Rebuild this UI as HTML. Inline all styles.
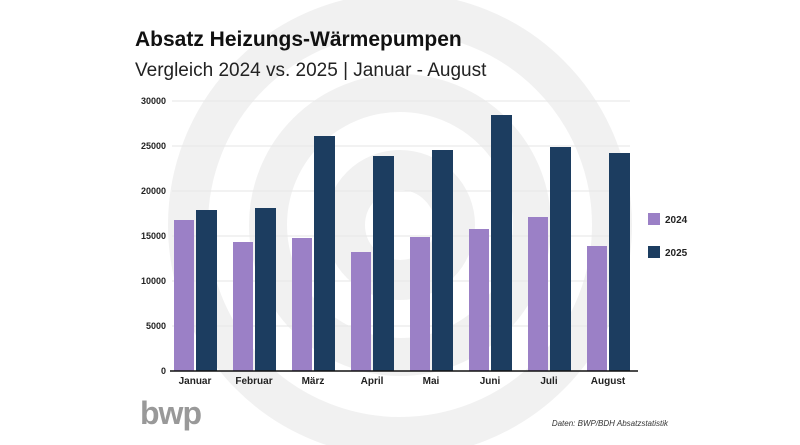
<!DOCTYPE html>
<html><head><meta charset="utf-8"><style>
body{margin:0;background:#fff;}
svg{display:block;font-family:"Liberation Sans",sans-serif;}
</style></head><body>
<svg width="800" height="445" viewBox="0 0 800 445">
<g fill="none" stroke="#f1f1f1">
<circle cx="400" cy="225" r="212" stroke-width="40"/>
<circle cx="400" cy="225" r="132" stroke-width="38"/>
<circle cx="400" cy="225" r="55" stroke-width="40"/>
</g>
<text x="135" y="46" font-size="21" font-weight="bold" fill="#111">Absatz Heizungs-Wärmepumpen</text>
<text x="135" y="76" font-size="19" fill="#222">Vergleich 2024 vs. 2025 | Januar - August</text>
<g stroke="#e6e6e6" stroke-width="1">
<line x1="172" x2="630" y1="101" y2="101"/><line x1="172" x2="630" y1="146" y2="146"/>
<line x1="172" x2="630" y1="191" y2="191"/><line x1="172" x2="630" y1="236" y2="236"/>
<line x1="172" x2="630" y1="281" y2="281"/><line x1="172" x2="630" y1="326" y2="326"/>
</g>
<g font-size="9" font-weight="bold" fill="#222" text-anchor="end">
<text x="166" y="104">30000</text><text x="166" y="149">25000</text><text x="166" y="194">20000</text>
<text x="166" y="239">15000</text><text x="166" y="284">10000</text><text x="166" y="329">5000</text><text x="166" y="374">0</text>
</g>
<g fill="#9b80c6">
<rect x="174" y="220" width="20" height="151"/><rect x="233" y="242" width="20" height="129"/>
<rect x="292" y="238" width="20" height="133"/><rect x="351" y="252" width="20" height="119"/>
<rect x="410" y="237" width="20" height="134"/><rect x="469" y="229" width="20" height="142"/>
<rect x="528" y="217" width="20" height="154"/><rect x="587" y="246" width="20" height="125"/>
</g>
<g fill="#1c3d60">
<rect x="196" y="210" width="21" height="161"/><rect x="255" y="208" width="21" height="163"/>
<rect x="314" y="136" width="21" height="235"/><rect x="373" y="156" width="21" height="215"/>
<rect x="432" y="150" width="21" height="221"/><rect x="491" y="115" width="21" height="256"/>
<rect x="550" y="147" width="21" height="224"/><rect x="609" y="153" width="21" height="218"/>
</g>
<line x1="170" x2="638" y1="371" y2="371" stroke="#111" stroke-width="1.5"/>
<g font-size="10" font-weight="bold" fill="#222" text-anchor="middle">
<text x="195" y="384">Januar</text><text x="254" y="384">Februar</text><text x="313" y="384">März</text>
<text x="372" y="384">April</text><text x="431" y="384">Mai</text><text x="490" y="384">Juni</text>
<text x="549" y="384">Juli</text><text x="608" y="384">August</text>
</g>
<rect x="648" y="213" width="12" height="12" fill="#9b80c6"/>
<text x="665" y="223" font-size="10" font-weight="bold" fill="#222">2024</text>
<rect x="648" y="246" width="12" height="12" fill="#1c3d60"/>
<text x="665" y="256" font-size="10" font-weight="bold" fill="#222">2025</text>
<text x="140" y="424" font-size="32" font-weight="bold" fill="#999" letter-spacing="-1">bwp</text>
<text x="668" y="426" font-size="8" font-style="italic" fill="#333" text-anchor="end">Daten: BWP/BDH Absatzstatistik</text>
</svg>
</body></html>
